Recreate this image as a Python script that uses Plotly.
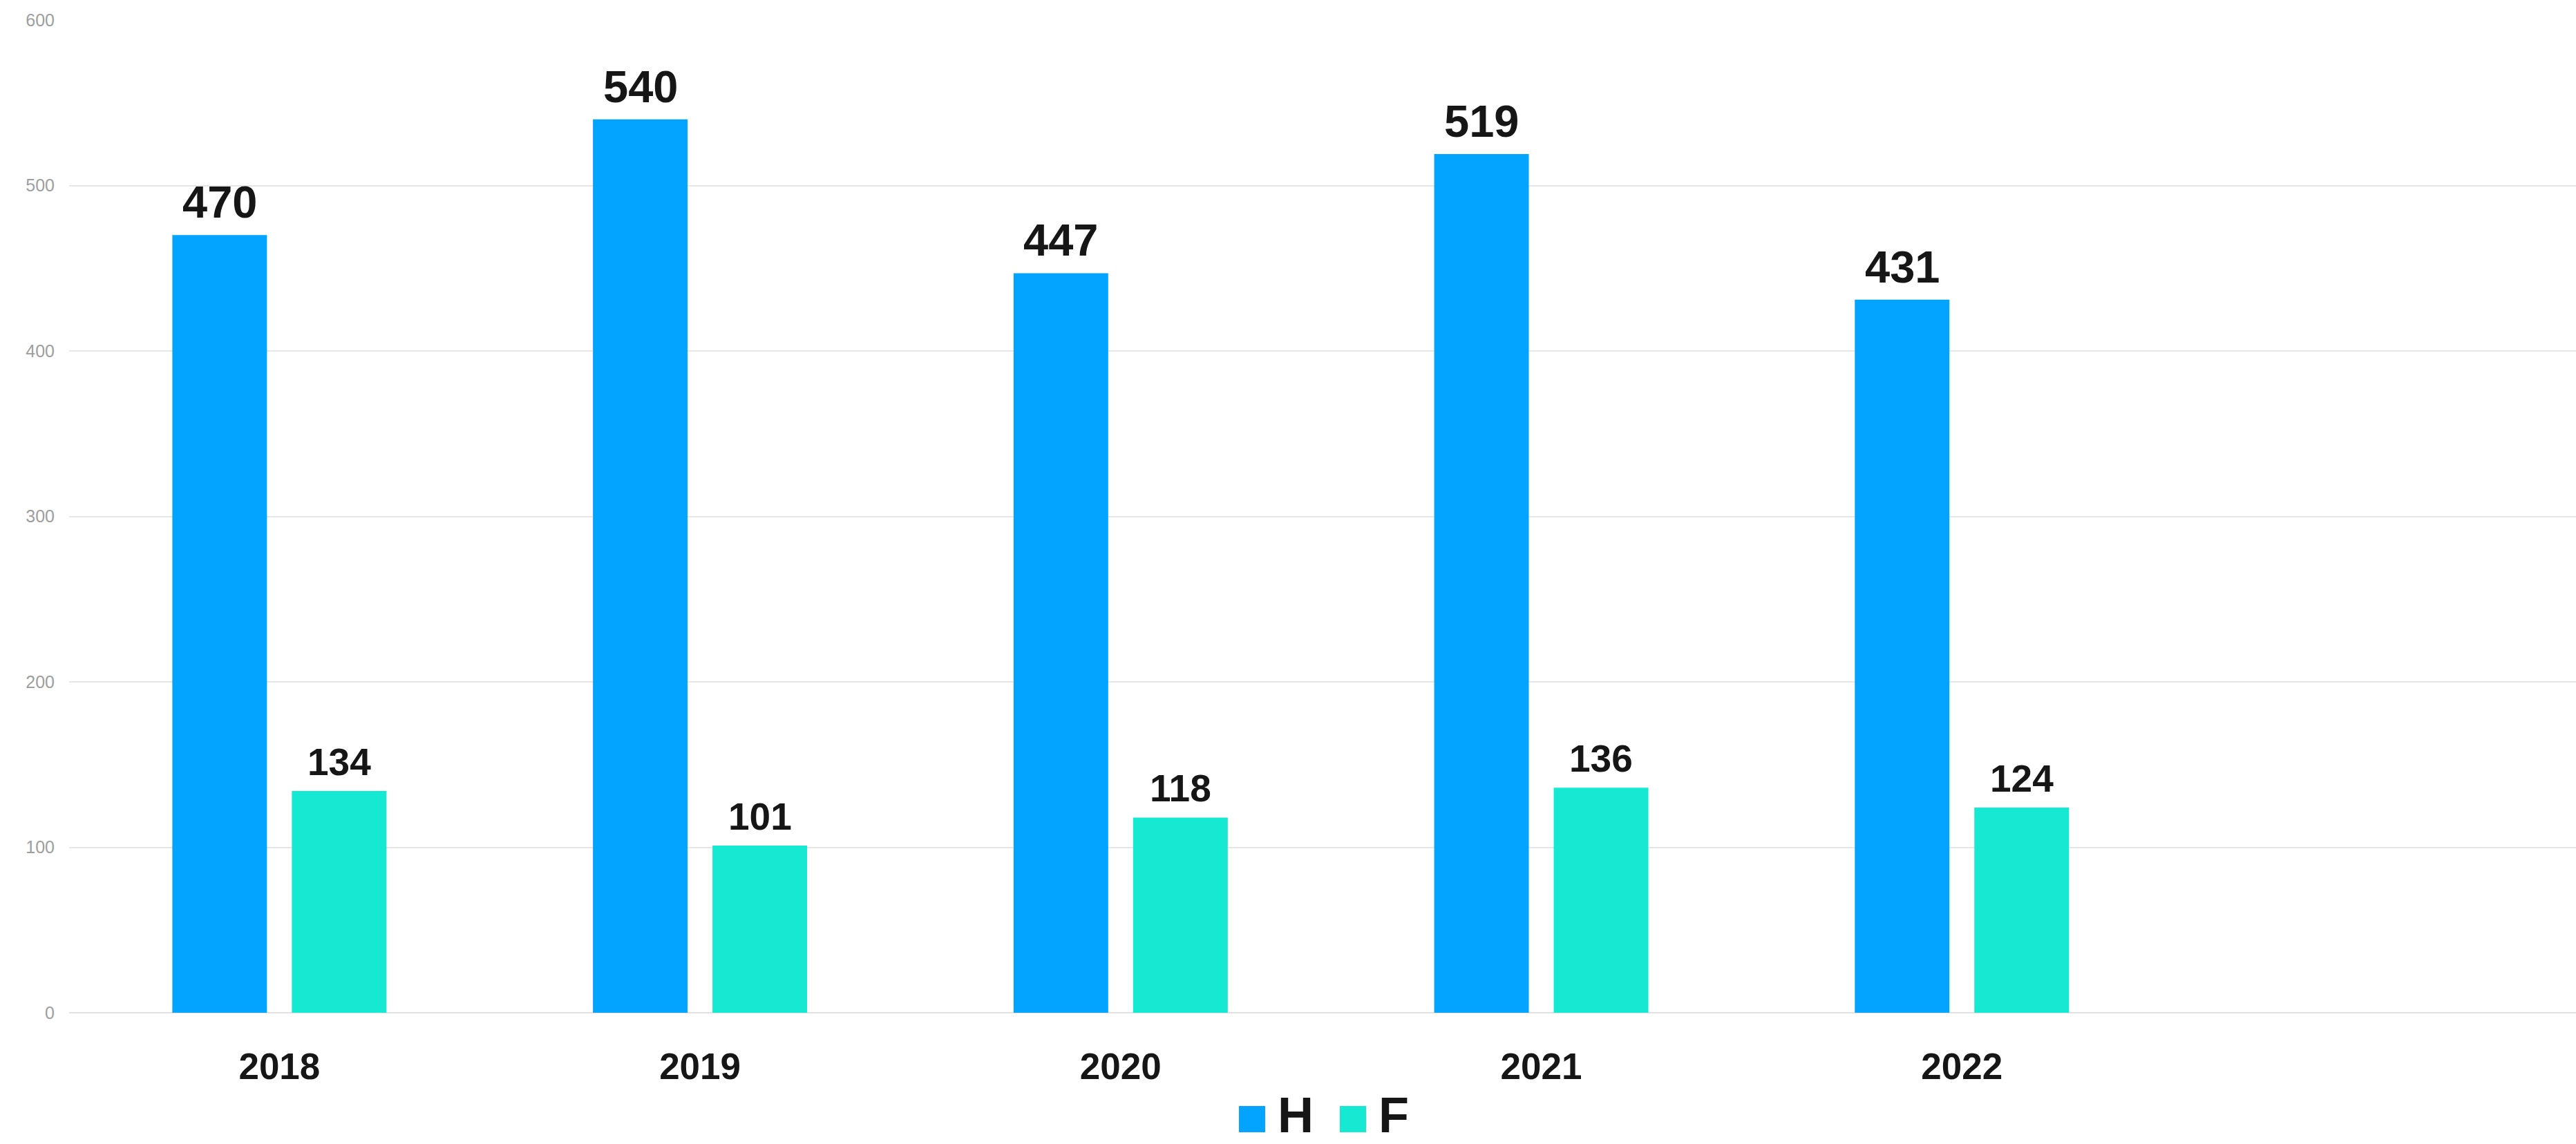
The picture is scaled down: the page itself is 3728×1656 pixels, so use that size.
import plotly.graph_objects as go

years = ["2018", "2019", "2020", "2021", "2022"]
series_names = ["H", "F"]
h_values = [470, 540, 447, 519, 431]
f_values = [134, 101, 118, 136, 124]
y_ticks = [0, 100, 200, 300, 400, 500, 600]

colors = {"H": "#02A4FF", "F": "#16E9D1"}
text_color = "#161616"
font_family = "Liberation Sans, Arial, sans-serif"

W, H = 3728, 1656
L, R, T, B = 100, 0, 29, 190
PW = W - L - R
PH = H - T - B
Y0 = H - B


def px_x(p):
    return (p - L) / PW


def px_y(p):
    return (Y0 - p) / PH


bar_w = 0.225
offsets = {"H": -0.2546, "F": 0.0296}

fig = go.Figure()
for name, vals in zip(series_names, [h_values, f_values]):
    fig.add_trace(go.Bar(
        x=years, y=vals, name=name,
        width=bar_w, offset=offsets[name],
        marker=dict(color=colors[name], line=dict(width=0)),
        showlegend=False, hoverinfo="x+y+name",
    ))

annotations = []
label_sizes = {"H": 65, "F": 55}
for name, vals in zip(series_names, [h_values, f_values]):
    for i, v in enumerate(vals):
        annotations.append(dict(
            x=i + offsets[name] + bar_w / 2, y=v, xref="x", yref="y",
            text=f"<b>{v}</b>", showarrow=False,
            xanchor="center", yanchor="bottom", yshift=9,
            font=dict(size=label_sizes[name], color=text_color, family=font_family),
        ))

# custom legend (lifted slightly so the text box stays inside the page)
lift = 10
legend_items = [("H", 1793, 1853), ("F", 1939, 1999)]
shapes = []
for name, sq_x, tx in legend_items:
    shapes.append(dict(
        type="rect", xref="paper", yref="paper",
        x0=px_x(sq_x), x1=px_x(sq_x + 38), y0=px_y(1649 - lift), y1=px_y(1611 - lift),
        fillcolor=colors[name], line=dict(width=0), layer="above",
    ))
    annotations.append(dict(
        x=px_x(tx - 6), y=px_y(1656), xref="paper", yref="paper",
        text=f"<b>{name}</b>", showarrow=False,
        xanchor="left", yanchor="bottom",
        font=dict(size=72, color=text_color, family=font_family),
    ))

fig.update_layout(
    width=W, height=H,
    margin=dict(l=L, r=R, t=T, b=B, pad=0),
    paper_bgcolor="white", plot_bgcolor="white",
    barmode="overlay",
    shapes=shapes,
    annotations=annotations,
    font=dict(family=font_family),
    xaxis=dict(
        type="category", range=[-0.5, 5.46],
        showgrid=False, zeroline=False, showline=False, ticks="",
        tickfont=dict(size=53, color=text_color, family=font_family, weight="bold"),
        ticklabelstandoff=42,
        fixedrange=True,
    ),
    yaxis=dict(
        range=[0, 600], tickvals=y_ticks, ticktext=[str(t) for t in y_ticks],
        showgrid=True, gridcolor="#e6e6e6", gridwidth=2,
        zeroline=True, zerolinecolor="#e2e2e2", zerolinewidth=2,
        showline=False, ticks="",
        tickfont=dict(size=25, color="#9e9e9e", family=font_family),
        ticklabelstandoff=20,
        fixedrange=True,
    ),
)

fig.write_html("out.html", config={"displayModeBar": False})
